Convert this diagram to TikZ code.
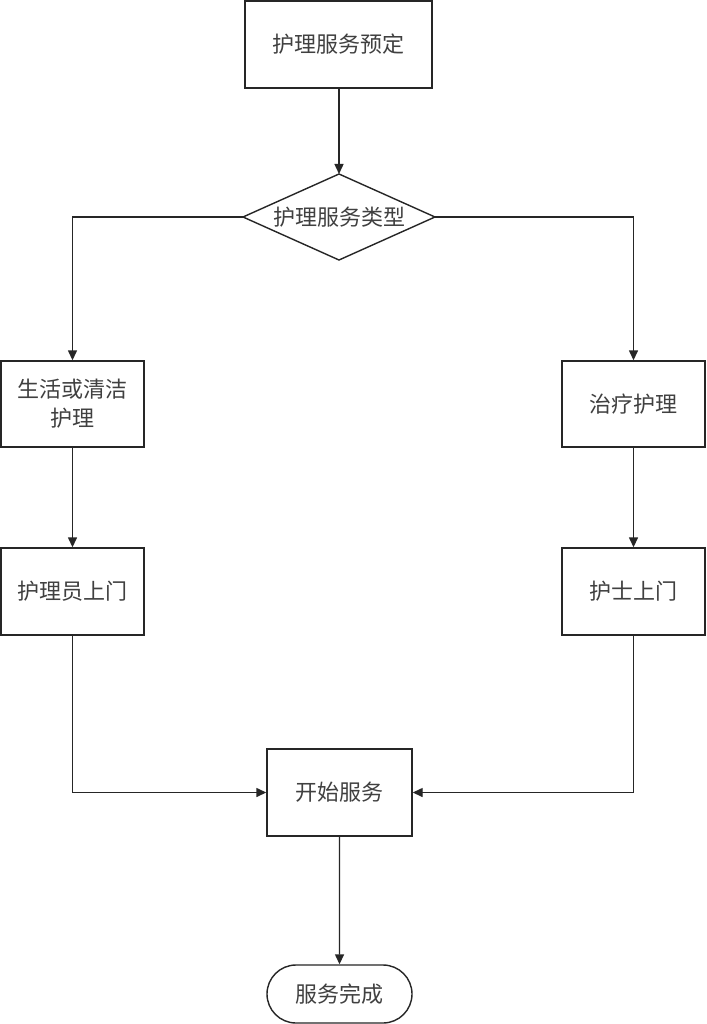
\documentclass[tikz,border=0pt]{standalone}
\usepackage{fontspec}
\setmainfont{Noto Sans CJK SC}
\usetikzlibrary{shapes.geometric,shapes.misc,arrows.meta}
\begin{document}
\begin{tikzpicture}[x=1pt,y=-1pt,
  line width=1.4pt,
  box/.style={draw=black!85,rectangle,inner sep=0pt,font=\fontsize{22}{29}\selectfont,text=black!75,align=center},
  term/.style={draw=black!85,rounded rectangle,inner sep=0pt,font=\fontsize{22}{29}\selectfont,text=black!75},
  arr/.style={draw=black!85,-{Triangle[length=10pt,width=9pt]}}]
\useasboundingbox[fill=white] (0,0) rectangle (706,1024);
\node[box,minimum width=187pt,minimum height=87pt] (a) at (338.5,44.5) {护理服务预定};
\draw[black!85] (243,217) -- (339,174) -- (435,217) -- (339,260) -- cycle;
\node[inner sep=0pt,font=\fontsize{22}{29}\selectfont,text=black!75] (d) at (339,217) {护理服务类型};
\coordinate (dt) at (339,174);
\coordinate (dl) at (243,217);
\coordinate (dr) at (435,217);
\node[box,minimum width=143pt,minimum height=86pt] (l1) at (72.5,404) {生活或清洁\\护理};
\node[box,minimum width=143pt,minimum height=86pt] (r1) at (633.5,404) {治疗护理};
\node[box,minimum width=143pt,minimum height=87pt] (l2) at (72.5,591.5) {护理员上门};
\node[box,minimum width=143pt,minimum height=87pt] (r2) at (633.5,591.5) {护士上门};
\node[box,minimum width=145pt,minimum height=87pt] (c) at (339.5,792.5) {开始服务};
\node[term,minimum width=145pt,minimum height=58pt] (e) at (339.5,994) {服务完成};
\draw[arr] (a.south -| dt) -- (dt);
\draw[arr] (dl) -| (l1.north);
\draw[arr] (dr) -| (r1.north);
\draw[arr] (l1) -- (l2);
\draw[arr] (r1) -- (r2);
\draw[arr] (l2.south) |- (c.west);
\draw[arr] (r2.south) |- (c.east);
\draw[arr] (c) -- (e);
\end{tikzpicture}
\end{document}
